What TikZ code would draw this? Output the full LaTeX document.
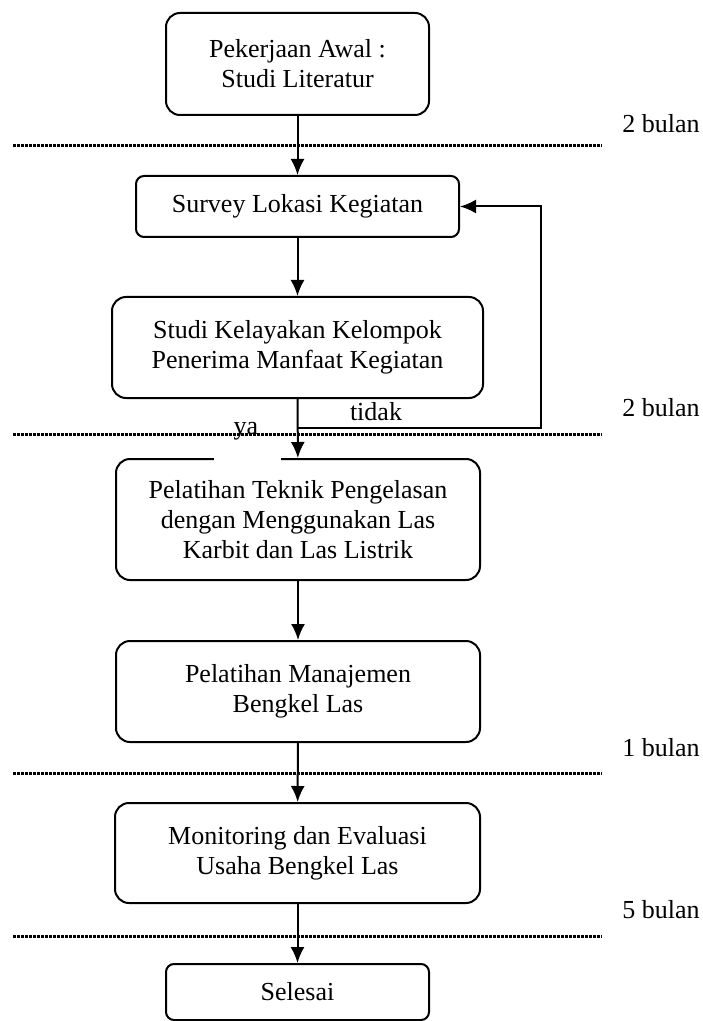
\documentclass[tikz,border=0pt]{standalone}
\usepackage{fontspec}
\setmainfont{Liberation Serif}
\usetikzlibrary{arrows.meta}
\begin{document}
\begin{tikzpicture}[x=.5pt, y=-.5pt, >={Latex[length=8pt,width=7pt]},
    box/.style={draw, line width=1pt, rounded corners=4pt, align=center, inner sep=0pt,
        font=\fontsize{13}{15}\selectfont},
    txt/.style={inner sep=0pt, font=\fontsize{13}{15}\selectfont},
    garis/.style={line width=1.5pt, dash pattern=on 1.3pt off .7pt},
    panah/.style={line width=1pt, ->}]
\useasboundingbox (0,0) rectangle (702,1021);
\node[box, rounded corners=7pt, minimum width=131.5pt, minimum height=51pt] (awal) at (297.5,64) {Pekerjaan Awal :\\Studi Literatur};
\node[box, minimum width=161.5pt, minimum height=30.5pt] (survey) at (297.5,206.5) {Survey Lokasi Kegiatan};
\node[box, rounded corners=7pt, minimum width=185.5pt, minimum height=50.5pt] (studi) at (297.5,347.5) {Studi Kelayakan Kelompok\\Penerima Manfaat Kegiatan};
\node[box, rounded corners=7pt, minimum width=182pt, minimum height=60.5pt] (teknik) at (298,519.5) {Pelatihan Teknik Pengelasan\\dengan Menggunakan Las\\Karbit dan Las Listrik};
\fill[white] (214,456) rectangle (281,462);
\node[box, rounded corners=7pt, minimum width=182pt, minimum height=50.5pt] (manaj) at (298,691.5) {Pelatihan Manajemen\\Bengkel Las};
\node[box, rounded corners=7pt, minimum width=182.5pt, minimum height=50pt] (monev) at (297.5,853) {Monitoring dan Evaluasi\\Usaha Bengkel Las};
\node[box, minimum width=131.5pt, minimum height=28pt] (selesai) at (297.5,992) {Selesai};

% garis waktu
\foreach \y in {146, 434, 773, 936}
    \draw[garis] (13,\y)--(602,\y);
\node[txt, anchor=west] (b1) at (622,124) {2 bulan};
\node[txt, anchor=west] (b2) at (622,408) {2 bulan};
\node[txt, anchor=west] (b3) at (622,748) {1 bulan};
\node[txt, anchor=west] (b4) at (622,910) {5 bulan};

% alur
\coordinate (cabang) at (297.5,428);
\coordinate (kanan) at (541,428);
\coordinate (atas) at (541,206.5);
\draw[panah] (awal)--(survey);
\draw[panah] (survey)--(studi);
\draw[panah] (studi)--(teknik);
\draw[panah] (teknik)--(manaj);
\draw[panah] (manaj)--(monev);
\draw[panah] (monev)--(selesai);
\draw[panah] (cabang)--(kanan)--(atas)--(survey.east);
\node[txt] (tidak) at (376,412) {tidak};
\node[txt] (ya) at (246,431) {ya};
\end{tikzpicture}
\end{document}
